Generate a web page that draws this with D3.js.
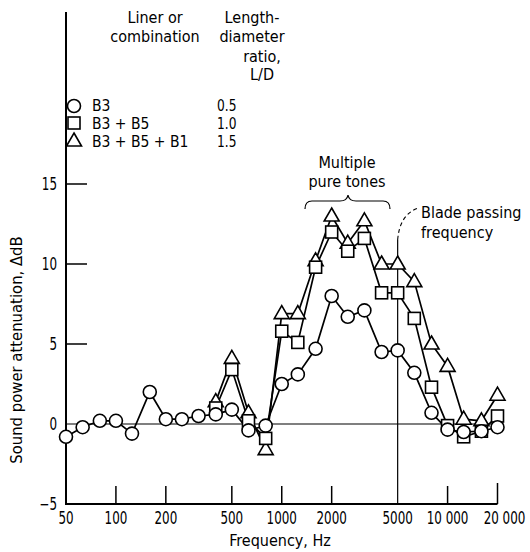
<!DOCTYPE html>
<html><head><meta charset="utf-8">
<script src="https://cdn.jsdelivr.net/npm/d3@7"></script>
<style>
html,body{margin:0;padding:0;background:#fff;}
svg{display:block;}
text{font-family:"DejaVu Sans Condensed","DejaVu Sans",sans-serif;fill:#000;}
</style></head>
<body>
<script>
// ---- data ----
const freqs = [50,63,80,100,125,160,200,250,315,400,500,630,800,1000,1250,1600,2000,2500,3150,4000,5000,6300,8000,10000,12500,16000,20000];
const b3 = [-0.8,-0.2,0.2,0.2,-0.6,2.0,0.3,0.3,0.5,0.6,0.9,-0.4,-0.1,2.5,3.1,4.7,8.0,6.7,7.1,4.5,4.6,3.2,0.7,-0.35,-0.5,-0.45,-0.2];
const freqs2 = [400,500,630,800,1000,1250,1600,2000,2500,3150,4000,5000,6300,8000,10000,12500,16000,20000];
const b3b5 = [1.0,3.4,0.2,-0.9,5.8,5.1,9.8,12.0,10.8,11.6,8.2,8.2,6.6,2.3,-0.1,-0.8,-0.45,0.5];
const b3b5b1 = [1.4,4.1,0.7,-1.6,6.9,6.9,10.2,13.0,11.3,12.7,10.0,10.0,8.9,5.0,3.6,0.3,0.2,1.8];
const xTicks = [100,200,500,1000,2000,10000,20000];
const xTickLabels = [[50,"50"],[100,"100"],[200,"200"],[500,"500"],[1000,"1000"],[2000,"2000"],[5000,"5000"],[10000,"10 000"],[20000,"20 000"]];
const yTicks = [5,10,15];
const yTickLabels = [-5,0,5,10,15];
const legendNames = ["B3","B3 + B5","B3 + B5 + B1"];
const legendLD = ["0.5","1.0","1.5"];

const W=530,H=552;
const svg=d3.select("body").append("svg").attr("width",W).attr("height",H);
const x=d3.scaleLog().domain([50,20000]).range([66,497.5]);
const y=d3.scaleLinear().domain([-5,15]).range([504,184]);

function txt(xp,yp,s,anchor,size,sx){
  return svg.append("text").attr("transform",`translate(${xp},${yp}) scale(${sx||1},1)`)
    .attr("text-anchor",anchor||"start").attr("font-size",size||15).text(s);
}

// axes
svg.append("line").attr("x1",66).attr("x2",66).attr("y1",12).attr("y2",y(-5)+1).attr("stroke","#000").attr("stroke-width",2);
svg.append("line").attr("x1",65).attr("x2",x(20000)).attr("y1",y(-5)).attr("y2",y(-5)).attr("stroke","#000").attr("stroke-width",2);
svg.append("line").attr("x1",66).attr("x2",x(20000)).attr("y1",y(0)).attr("y2",y(0)).attr("stroke","#000").attr("stroke-width",1.1);
svg.selectAll(".yt").data(yTicks).enter().append("line").attr("x1",66).attr("x2",87)
  .attr("y1",d=>y(d)).attr("y2",d=>y(d)).attr("stroke","#000").attr("stroke-width",1.5);
svg.selectAll(".xt").data(xTicks).enter().append("line").attr("x1",d=>x(d)).attr("x2",d=>x(d))
  .attr("y1",y(-5)).attr("y2",d=>d===20000?y(-5)-21:y(-5)-18).attr("stroke","#000").attr("stroke-width",1.5);
// blade passing frequency line
svg.append("line").attr("x1",x(5000)).attr("x2",x(5000)).attr("y1",y(-5)).attr("y2",240).attr("stroke","#000").attr("stroke-width",1.2);
svg.append("path").attr("d",`M${x(5000)},240 Q${x(5000)+2},214 ${x(5000)+21},208`).attr("fill","none")
  .attr("stroke","#000").attr("stroke-width",1.1).attr("stroke-dasharray","4,3");

yTickLabels.forEach(v=>txt(57,y(v)+6,String(v).replace("-","\u2212"),"end",17,0.78));
xTickLabels.forEach(([f,s])=>{
  if(f===20000) txt(x(f)+7,524,s,"middle",17,0.78);
  else txt(x(f),524,s,"middle",17,0.78);
});
txt(280,546,"Frequency,  Hz","middle",16);
svg.append("text").attr("transform","translate(22,350) rotate(-90)").attr("text-anchor","middle")
  .attr("font-size",16.5).text("Sound power attenuation,  \u0394dB");

// series
const s1=freqs.map((f,i)=>[f,b3[i]]);
const s2=freqs2.map((f,i)=>[f,b3b5[i]]);
const s3=freqs2.map((f,i)=>[f,b3b5b1[i]]);
const line=d3.line().x(d=>x(d[0])).y(d=>y(d[1]));
[s3,s2,s1].forEach(s=>svg.append("path").attr("d",line(s)).attr("fill","none").attr("stroke","#000").attr("stroke-width",1.7));
const tri="M0,-8L7.5,5L-7.5,5Z";
function triM(g){g.attr("d",tri).attr("fill","#fff").attr("stroke","#000").attr("stroke-width",1.6);}
function sqM(g){g.attr("x",-6).attr("y",-6).attr("width",12).attr("height",12).attr("fill","#fff").attr("stroke","#000").attr("stroke-width",1.6);}
function ciM(g){g.attr("r",6.5).attr("fill","#fff").attr("stroke","#000").attr("stroke-width",1.6);}
svg.selectAll(".tri").data(s3).enter().append("path").attr("transform",d=>`translate(${x(d[0])},${y(d[1])})`).call(triM);
svg.selectAll(".sq").data(s2).enter().append("rect").attr("transform",d=>`translate(${x(d[0])},${y(d[1])})`).call(sqM);
svg.selectAll(".ci").data(s1).enter().append("circle").attr("cx",d=>x(d[0])).attr("cy",d=>y(d[1])).call(ciM);

// legend
txt(155,23,"Liner or","middle",16);
txt(155,42,"combination","middle",16);
txt(252,23,"Length-","middle",16);
txt(252,42,"diameter","middle",16);
txt(262,62,"ratio,","middle",16);
txt(262,80,"L/D","middle",16);
const rows=[111,129,147];
svg.append("circle").attr("cx",74).attr("cy",rows[0]-5).call(ciM);
svg.append("rect").attr("transform",`translate(74,${rows[1]-6})`).call(sqM);
svg.append("path").attr("transform",`translate(74,${rows[2]-6})`).call(triM);
legendNames.forEach((n,i)=>txt(92,rows[i],n.replace(/ \+ /g,"  +  "),"start",15.5));
legendLD.forEach((n,i)=>txt(217,rows[i],n,"start",16,0.85));

// annotations
txt(347,168,"Multiple","middle",16);
txt(347,187,"pure tones","middle",16);
svg.append("path").attr("d","M305,209 Q305,201 312,201 L340,201 Q347,201 348,195 Q349,201 356,201 L383,201 Q390,201 390,209")
  .attr("fill","none").attr("stroke","#000").attr("stroke-width",1.2);
txt(421,218,"Blade passing","start",16);
txt(421,238,"frequency","start",16);
</script>
</body></html>
